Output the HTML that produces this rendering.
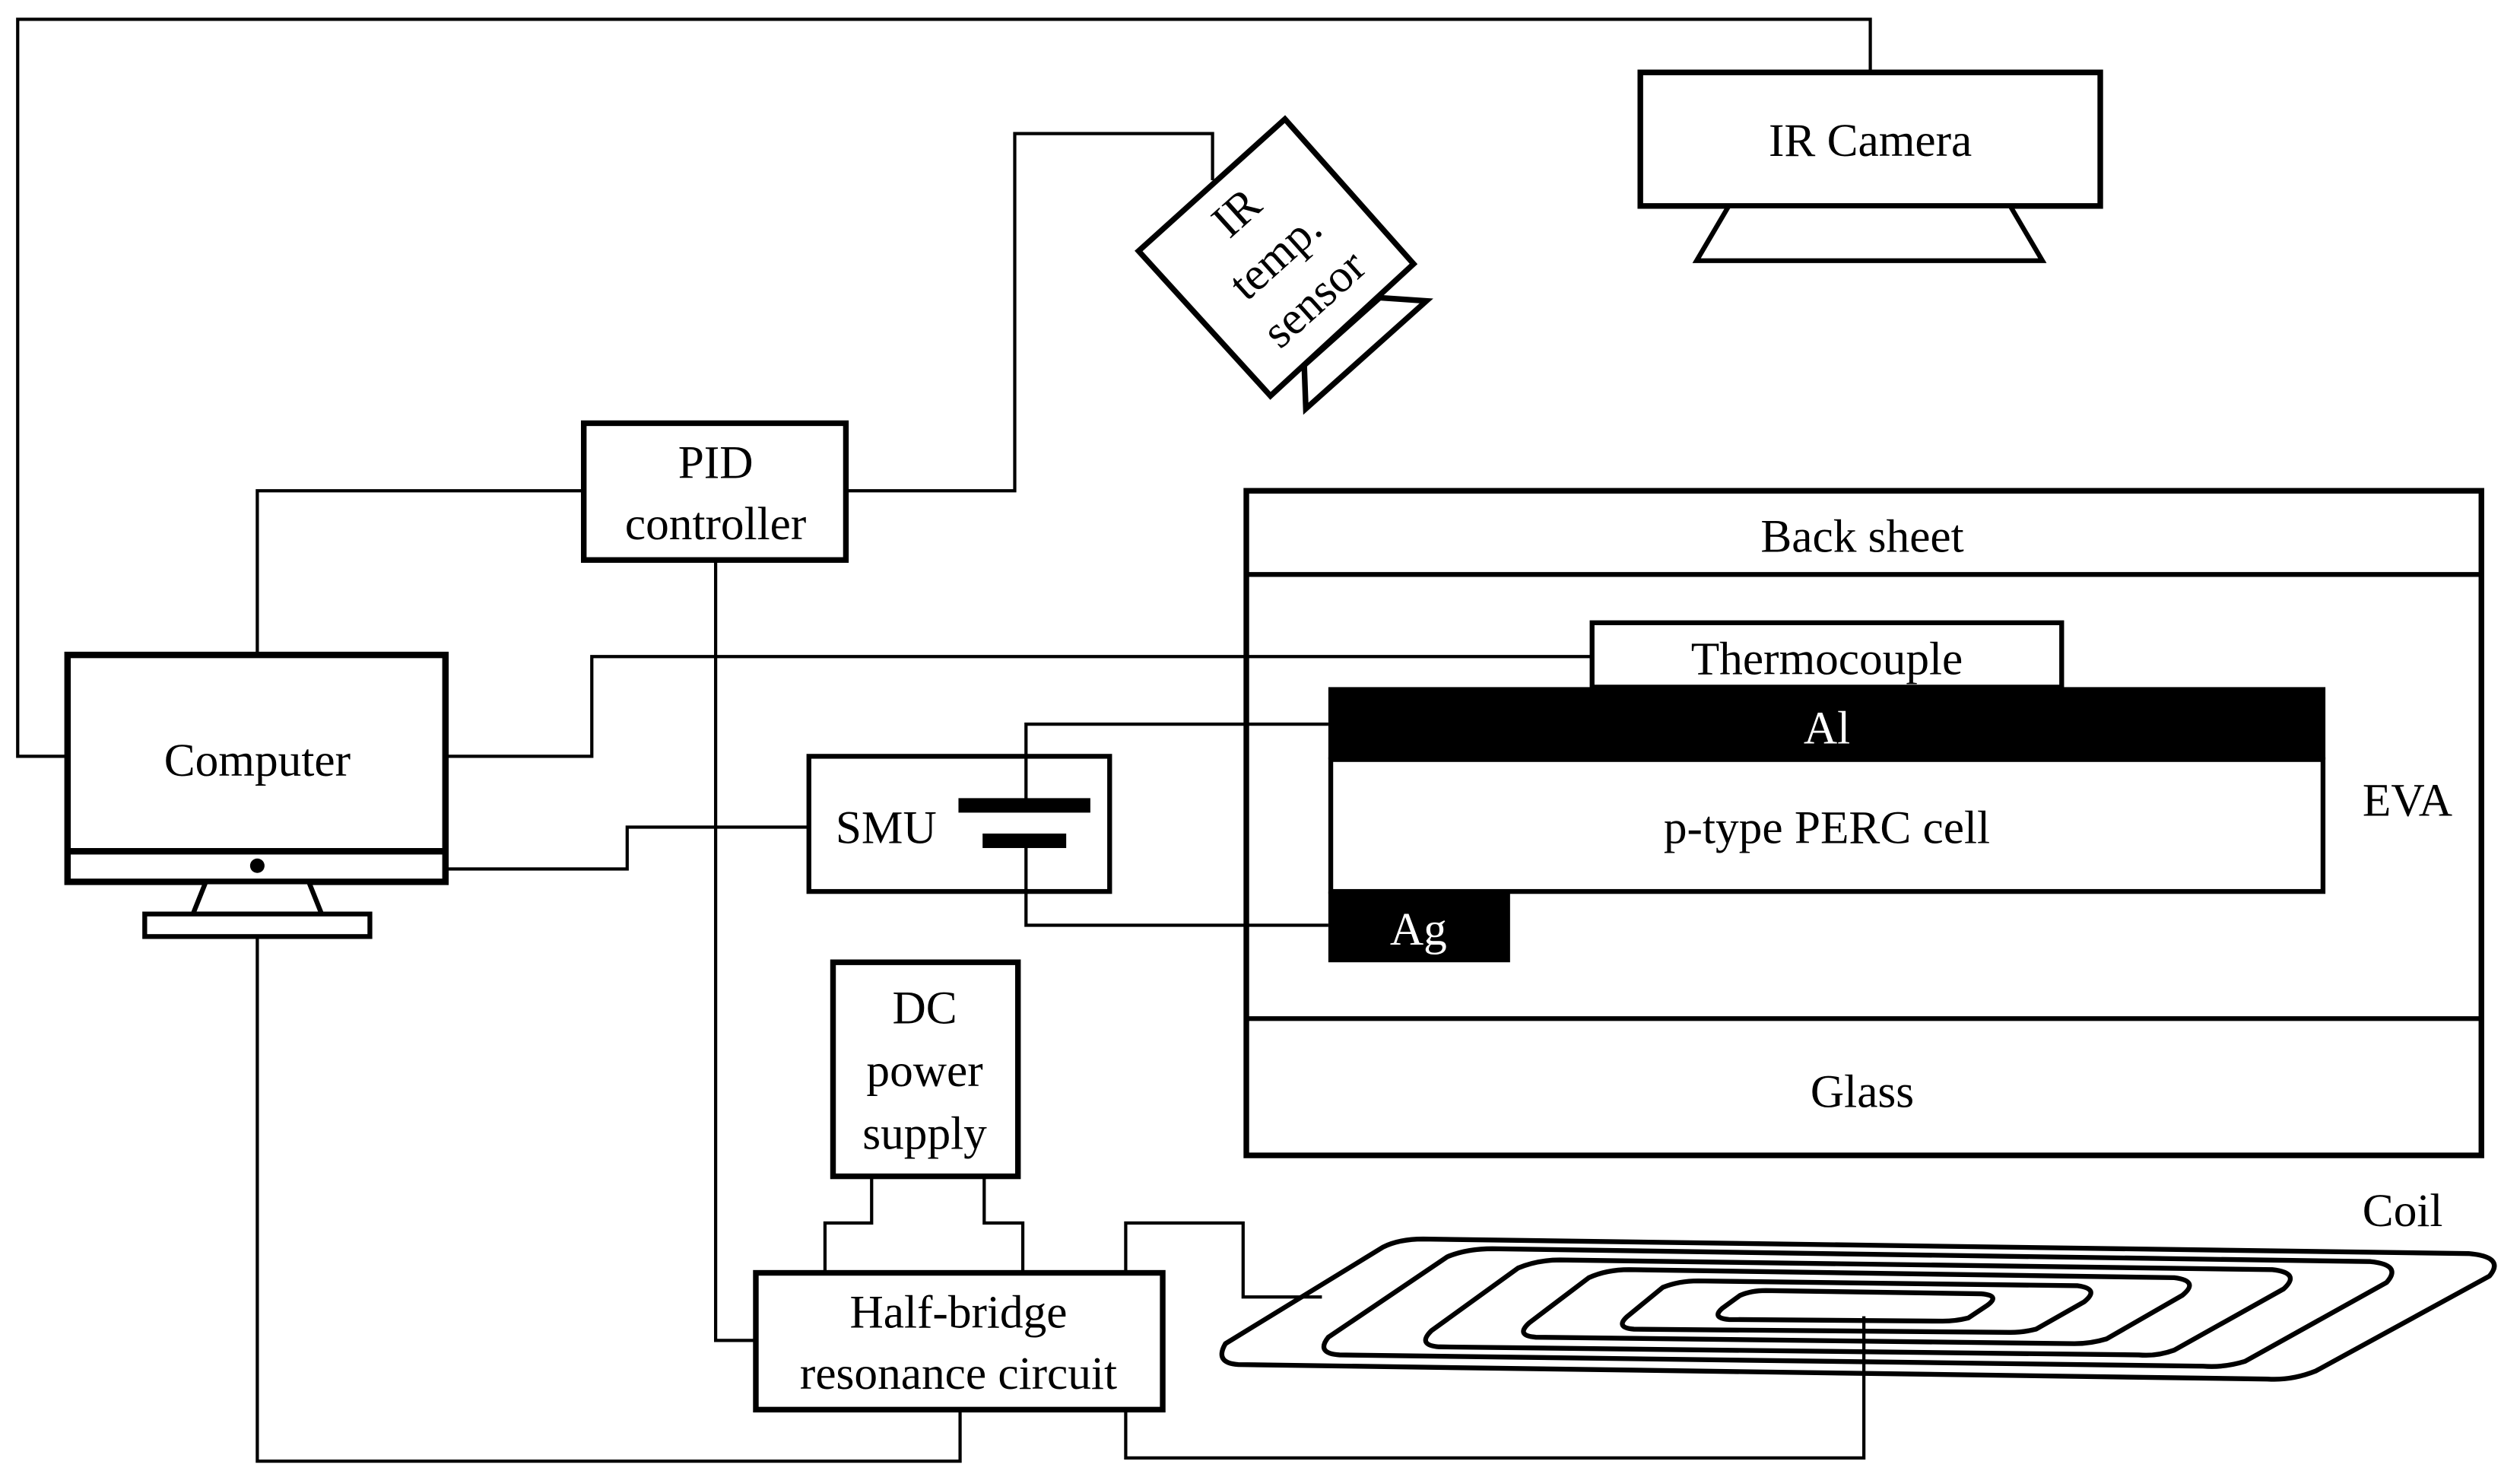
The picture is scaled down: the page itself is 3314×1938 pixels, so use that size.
<!DOCTYPE html>
<html><head><meta charset="utf-8"><style>
html,body{margin:0;padding:0;background:#fff;}
svg{display:block;}
text{font-family:"Liberation Serif","Times New Roman","DejaVu Serif",serif;font-size:29px;fill:#000;text-anchor:middle;}
</style></head><body>
<svg width="3314" height="1938" viewBox="0 0 1567 916" preserveAspectRatio="none" xmlns="http://www.w3.org/2000/svg">
<rect x="0" y="0" width="1567" height="916" fill="#fff"/>
<g fill="none" stroke="#000" stroke-width="2">
<polyline points="42,470 11,470 11,12 1163,12 1163,45"/>
<polyline points="527,305 631,305 631,83 754,83 754,112"/>
<polyline points="363,305 160,305 160,407"/>
<polyline points="277,470 368,470 368,408 990,408"/>
<polyline points="277,540 390,540 390,514 503,514"/>
<polyline points="826,450 638,450 638,500"/>
<polyline points="638,522 638,575 826,575"/>
<polyline points="445,348 445,833 470,833"/>
<polyline points="542,731 542,760 513,760 513,791"/>
<polyline points="612,731 612,760 636,760 636,791"/>
<polyline points="700,791 700,760 773,760 773,806 822,806"/>
<polyline points="160,582 160,908 597,908 597,876"/>
<polyline points="700,876 700,906 1159,906 1159,818"/>
</g>
<rect x="1020" y="45" width="286" height="83" fill="#fff" stroke="#000" stroke-width="3.5"/>
<text x="1163" y="97">IR Camera</text>
<polygon points="1075,128 1250,128 1270,162 1055,162" fill="#fff" stroke="#000" stroke-width="3"/>
<polygon points="858,185 887,187 812,254 811,227" fill="#fff" stroke="#000" stroke-width="3.5"/>
<polygon points="799,74 879,164 790,246 708,156" fill="#fff" stroke="#000" stroke-width="3.5"/>
<g transform="translate(794,160) rotate(-42)">
<text x="0" y="-28">IR</text>
<text x="0" y="8">temp.</text>
<text x="0" y="44">sensor</text>
</g>
<rect x="363" y="263" width="163" height="85" fill="#fff" stroke="#000" stroke-width="3.5"/>
<text x="445" y="297">PID</text>
<text x="445" y="335">controller</text>
<rect x="42" y="407" width="235" height="141" fill="#fff" stroke="#000" stroke-width="4"/>
<line x1="42" y1="529" x2="277" y2="529" stroke="#000" stroke-width="4"/>
<circle cx="160" cy="538" r="4.5" fill="#000"/>
<polygon points="128,548 192,548 200,568 120,568" fill="#fff" stroke="#000" stroke-width="3"/>
<rect x="90" y="568" width="140" height="14" fill="#fff" stroke="#000" stroke-width="3"/>
<text x="160" y="482">Computer</text>
<rect x="503" y="470" width="187" height="84" fill="none" stroke="#000" stroke-width="3"/>
<text x="551" y="524">SMU</text>
<rect x="596" y="496" width="82" height="9" fill="#000"/>
<rect x="611" y="518" width="52" height="9" fill="#000"/>
<rect x="775" y="305" width="768" height="413" fill="none" stroke="#000" stroke-width="3.5"/>
<line x1="775" y1="357" x2="1543" y2="357" stroke="#000" stroke-width="3"/>
<line x1="775" y1="633" x2="1543" y2="633" stroke="#000" stroke-width="3"/>
<text x="1158" y="343">Back sheet</text>
<text x="1158" y="688">Glass</text>
<text x="1497" y="507">EVA</text>
<rect x="990" y="387" width="292" height="40" fill="#fff" stroke="#000" stroke-width="3"/>
<text x="1136" y="419">Thermocouple</text>
<rect x="826" y="427" width="620" height="45" fill="#000"/>
<text x="1136" y="462" style="fill:#fff">Al</text>
<rect x="827.5" y="472" width="617" height="82" fill="#fff" stroke="#000" stroke-width="3"/>
<text x="1136" y="524">p-type PERC cell</text>
<rect x="826" y="554" width="113" height="44" fill="#000"/>
<text x="882" y="587" style="fill:#fff">Ag</text>
<rect x="518" y="598" width="115" height="133" fill="#fff" stroke="#000" stroke-width="3.5"/>
<text x="575" y="636">DC</text>
<text x="575" y="675">power</text>
<text x="575" y="714">supply</text>
<rect x="470" y="791" width="253" height="85" fill="#fff" stroke="#000" stroke-width="3.5"/>
<text x="596" y="825">Half-bridge</text>
<text x="596" y="863">resonance circuit</text>
<text x="1494" y="762">Coil</text>
<g fill="none" stroke="#000" stroke-width="3" stroke-linejoin="round">
<path d="M885,770 L1535,779 Q1558,781 1548,793 L1440,852 Q1425,858 1410,857 L770,848 Q755,847 762,835 L860,775 Q870,770 885,770 Z"/>
<path d="M928,776 L1474,784 Q1494,786 1484,797 L1396,846 Q1383,850 1370,849 L833,842 Q818,841 826,831 L900,781 Q912,776 928,776 Z"/>
<path d="M970,783 L1413,789 Q1431,791 1420,801 L1352,839 Q1341,843 1330,842 L895,837 Q881,836 890,827 L944,788 Q956,783 970,783 Z"/>
<path d="M1013,789 L1352,794 Q1368,796 1357,805 L1310,832 Q1300,835 1290,835 L955,831 Q942,830 951,822 L988,794 Q999,789 1013,789 Z"/>
<path d="M1056,796 L1292,799 Q1306,801 1296,809 L1266,826 Q1258,828 1250,828 L1016,826 Q1004,825 1012,818 L1034,800 Q1044,796 1056,796 Z"/>
<path d="M1098,802 L1232,804 Q1244,805 1236,811 L1224,819 Q1216,821 1208,821 L1075,820 Q1064,819 1071,813 L1082,805 Q1089,802 1098,802 Z"/>
</g>
</svg>
</body></html>
